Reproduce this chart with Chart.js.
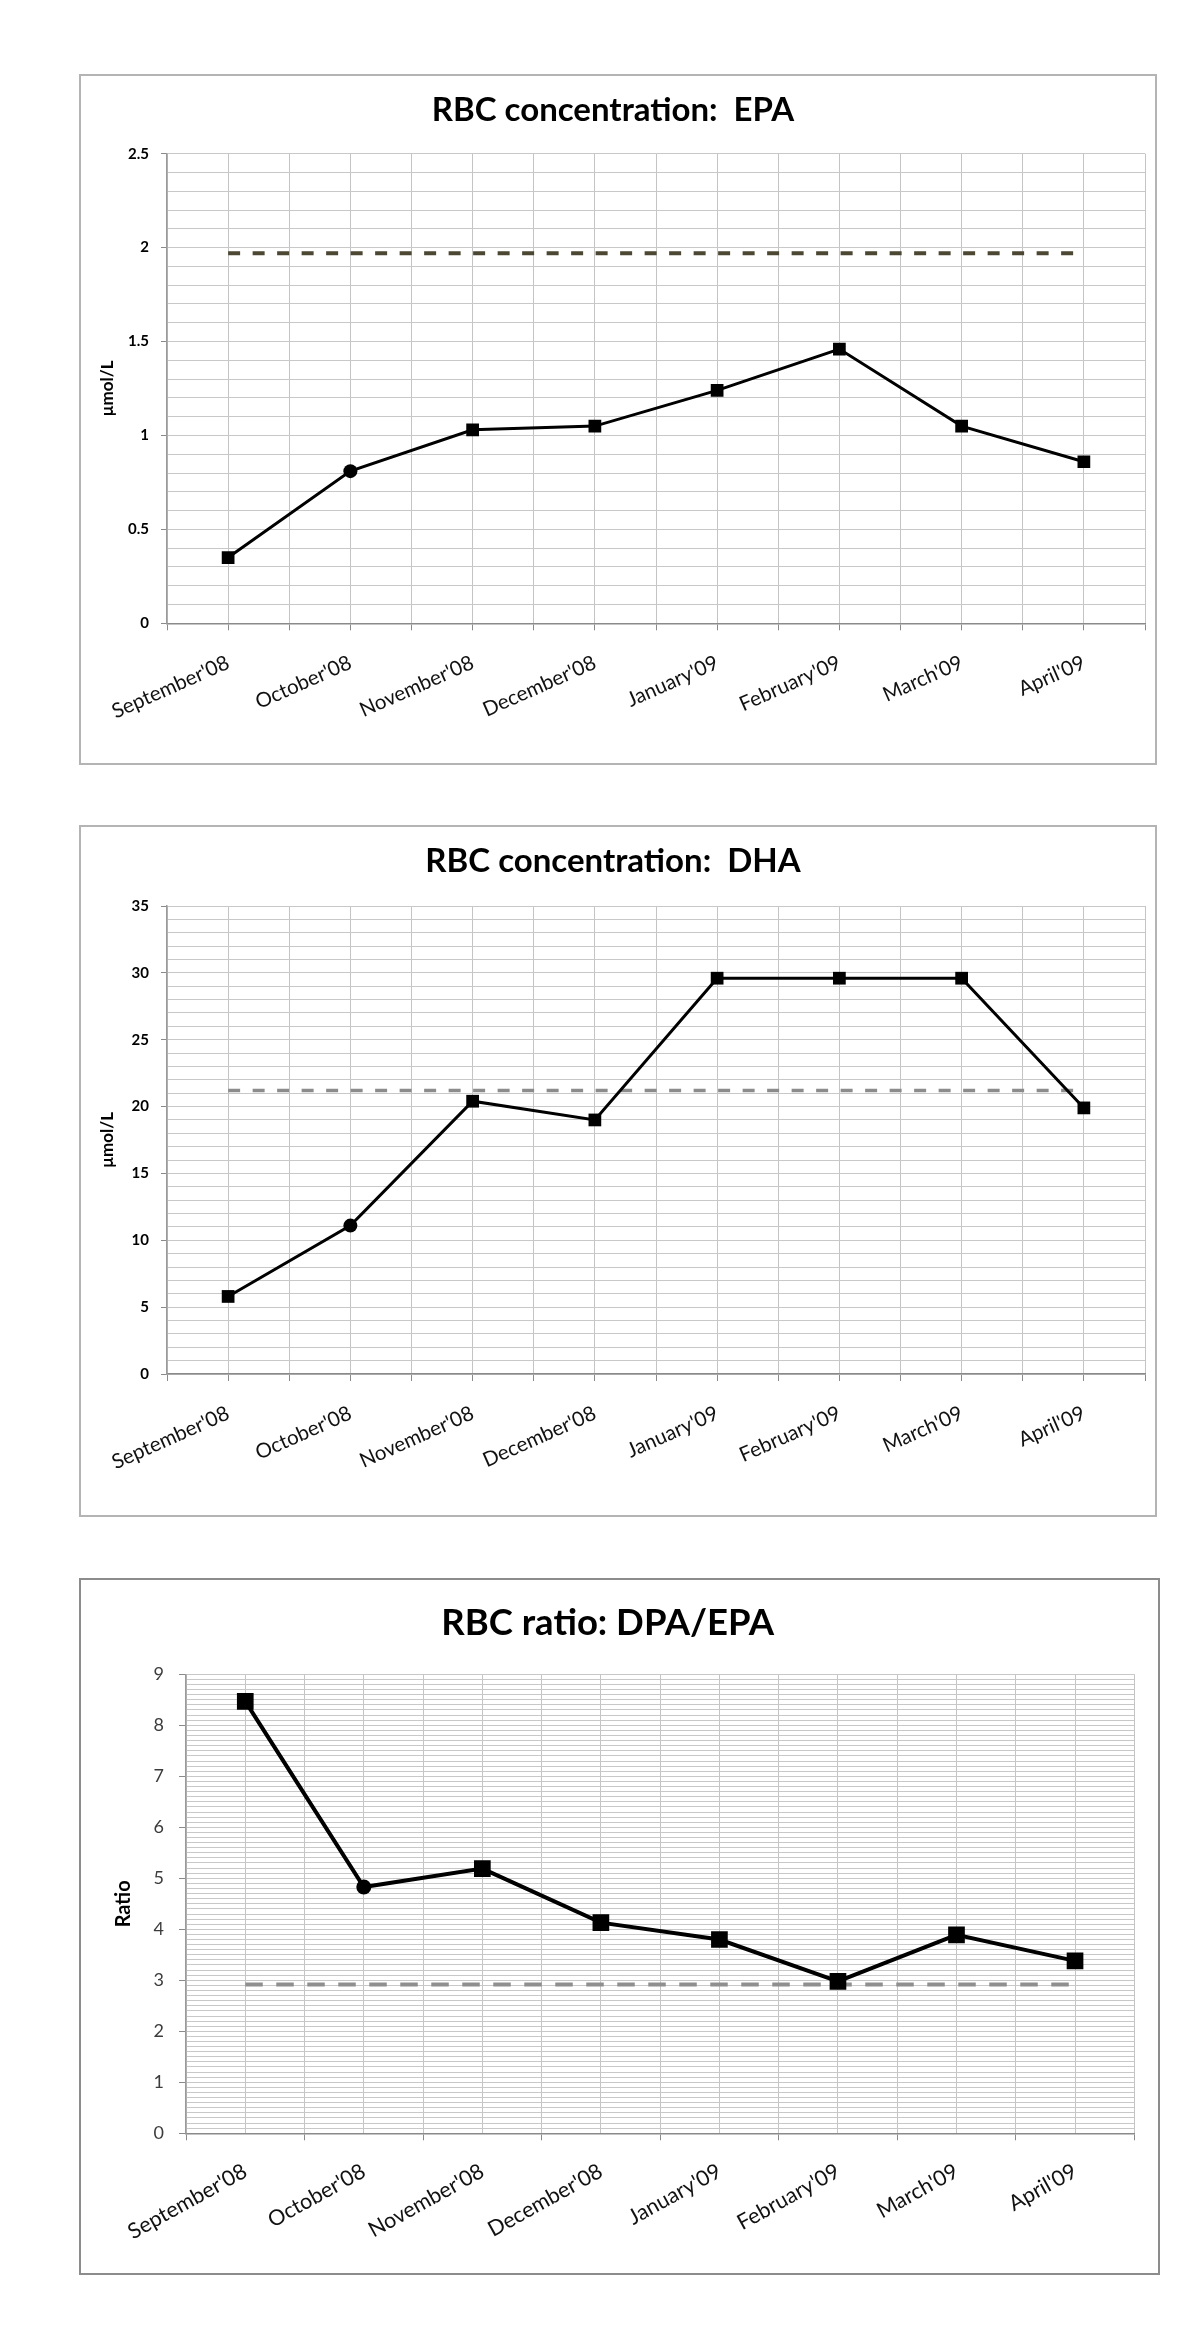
<!DOCTYPE html>
<html>
<head>
<meta charset="utf-8">
<title>RBC fatty acid charts</title>
<script src="https://cdn.jsdelivr.net/npm/chart.js@4.4.1/dist/chart.umd.min.js"></script>
<style>
    html, body { margin: 0; padding: 0; background: #fff; }
    body { width: 1200px; height: 2346px; position: relative; overflow: hidden; }
    .box { position: absolute; left: 79px; background: #fff; }
    .box canvas { display: block; }
    #box1 { top: 74px; border: 2px solid #b4b4b4; }
    #box2 { top: 825px; border: 2px solid #b4b4b4; }
    #box3 { top: 1578px; border: 2px solid #8c8c8c; }
</style>
</head>
<body>
<div class="box" id="box1"><canvas id="epaChart" width="1074" height="687"></canvas></div>
<div class="box" id="box2"><canvas id="dhaChart" width="1074" height="688"></canvas></div>
<div class="box" id="box3"><canvas id="ratioChart" width="1077" height="693"></canvas></div>

<script>
// Month labels shared by the three charts
const months = ["September'08", "October'08", "November'08", "December'08",
                "January'09", "February'09", "March'09", "April'09"];

// October is drawn with a round marker, every other month with a square
const markerShapes = ['rect', 'circle', 'rect', 'rect', 'rect', 'rect', 'rect', 'rect'];

// RBC concentration: EPA (umol/L)
const epaValues = [0.35, 0.81, 1.03, 1.05, 1.24, 1.46, 1.05, 0.86];
const epaTarget = 1.97;
const epaTicks = [0, 0.5, 1, 1.5, 2, 2.5];

// RBC concentration: DHA (umol/L)
const dhaValues = [5.8, 11.1, 20.4, 19.0, 29.6, 29.6, 29.6, 19.9];
const dhaTarget = 21.2;
const dhaTicks = [0, 5, 10, 15, 20, 25, 30, 35];

// RBC ratio: DPA/EPA
const ratioValues = [8.47, 4.83, 5.19, 4.13, 3.80, 2.98, 3.89, 3.38];
const ratioTarget = 2.92;
const ratioTicks = [0, 1, 2, 3, 4, 5, 6, 7, 8, 9];

Chart.defaults.font.family = "Lato, 'Open Sans', sans-serif";
Chart.defaults.animation = false;

function isTick(list, v) {
    return list.some(t => Math.abs(t - v) < 1e-6);
}

// Each month sits on every other vertical grid line (1, 3, 5 ... 15 of 0..16)
function makeChart(canvasId, s) {
    const ctx = document.getElementById(canvasId).getContext('2d');
    const points = s.values.map((v, i) => ({ x: 2 * i + 1, y: v }));
    const lastX = 2 * s.values.length - 1;
    const targetLine = [{ x: 1, y: s.target }, { x: lastX, y: s.target }];
    const yMax = s.yTicks[s.yTicks.length - 1];

    return new Chart(ctx, {
        type: 'line',
        data: {
            datasets: [{
                data: points,
                borderColor: '#000',
                borderWidth: s.lineWidth,
                tension: 0,
                pointStyle: markerShapes,
                pointRadius: markerShapes.map(m => m === 'circle' ? s.dotSize : s.squareSize),
                pointBackgroundColor: '#000',
                pointBorderColor: '#000',
                pointBorderWidth: 0,
                order: 1
            }, {
                data: targetLine,
                borderColor: s.targetColor,
                borderWidth: s.targetWidth,
                borderDash: s.targetDash,
                borderCapStyle: 'butt',
                pointRadius: 0,
                order: 2
            }]
        },
        options: {
            responsive: false,
            layout: { padding: { right: s.rightPad } },
            plugins: {
                legend: { display: false },
                tooltip: { enabled: false },
                title: {
                    display: true,
                    text: s.title,
                    color: '#000',
                    font: { size: s.titleSize, weight: 'bold' },
                    padding: { top: s.titleTop, bottom: s.titleBottom }
                }
            },
            scales: {
                x: {
                    type: 'linear',
                    min: 0,
                    max: lastX + 1,
                    afterFit: function(scale) {
                        scale.height = s.xHeight;
                        scale.paddingLeft = 0;
                        scale.paddingRight = 0;
                    },
                    grid: {
                        color: '#c4c4c4',
                        tickLength: 7,
                        tickColor: c => (s.evenTicksOnly && c.tick && c.tick.value % 2 === 1) ? 'rgba(0,0,0,0)' : '#8a8a8a'
                    },
                    border: { color: '#8a8a8a', width: 1.5 },
                    ticks: {
                        stepSize: 1,
                        autoSkip: false,
                        maxRotation: s.xRotation,
                        minRotation: s.xRotation,
                        padding: s.xPad,
                        color: '#111',
                        font: { size: s.xFont },
                        callback: v => (v % 2 === 1 ? months[(v - 1) / 2] : '')
                    }
                },
                y: {
                    min: 0,
                    max: yMax,
                    afterFit: function(scale) {
                        scale.width = s.yWidth;
                    },
                    grid: {
                        color: '#c8c8c8',
                        tickLength: s.yTickLen,
                        tickColor: c => (c.tick && isTick(s.yTicks, c.tick.value)) ? '#8a8a8a' : 'rgba(0,0,0,0)'
                    },
                    border: { color: '#9a9a9a', width: 1.5 },
                    ticks: {
                        stepSize: s.minorStep,
                        maxTicksLimit: 1000,
                        autoSkip: false,
                        padding: s.yPad,
                        color: s.yColor,
                        font: { size: s.yFont, weight: s.yWeight },
                        callback: v => (isTick(s.yTicks, v) ? String(v) : '')
                    },
                    title: {
                        display: true,
                        text: s.yTitle,
                        color: '#000',
                        font: { size: s.yTitleSize, weight: 'bold' },
                        padding: { top: s.yTitlePad, bottom: 0 }
                    }
                }
            }
        }
    });
}

document.addEventListener('DOMContentLoaded', function() {
    makeChart('epaChart', {
        title: 'RBC concentration:  EPA', titleSize: 33, titleTop: 14.2, titleBottom: 23.9,
        values: epaValues, target: epaTarget, yTicks: epaTicks, minorStep: 0.1,
        lineWidth: 3, squareSize: 9, dotSize: 7,
        targetColor: '#4b4733', targetWidth: 4, targetDash: [12, 12.5],
        rightPad: 10, xHeight: 139.7, yWidth: 86,
        xRotation: 24, xPad: 20, xFont: 20.5, evenTicksOnly: false,
        yTickLen: 6, yPad: 12, yFont: 15, yWeight: 'bold', yColor: '#000',
        yTitle: 'µmol/L', yTitleSize: 17, yTitlePad: 16
    });

    makeChart('dhaChart', {
        title: 'RBC concentration:  DHA', titleSize: 33, titleTop: 14.2, titleBottom: 25.2,
        values: dhaValues, target: dhaTarget, yTicks: dhaTicks, minorStep: 1,
        lineWidth: 3, squareSize: 9, dotSize: 7,
        targetColor: '#8c8c8c', targetWidth: 3.5, targetDash: [12, 12.5],
        rightPad: 10, xHeight: 141, yWidth: 86,
        xRotation: 24, xPad: 20, xFont: 20.5, evenTicksOnly: false,
        yTickLen: 6, yPad: 12, yFont: 15, yWeight: 'bold', yColor: '#000',
        yTitle: 'µmol/L', yTitleSize: 17, yTitlePad: 16
    });

    makeChart('ratioChart', {
        title: 'RBC ratio: DPA/EPA', titleSize: 36.5, titleTop: 21.1, titleBottom: 29.4,
        values: ratioValues, target: ratioTarget, yTicks: ratioTicks, minorStep: 0.1,
        lineWidth: 4, squareSize: 11.8, dotSize: 7.5,
        targetColor: '#8f8f8f', targetWidth: 4, targetDash: [17.5, 13.5],
        rightPad: 23.7, xHeight: 139.7, yWidth: 105,
        xRotation: 29, xPad: 18, xFont: 21.5, evenTicksOnly: true,
        yTickLen: 7, yPad: 15, yFont: 18, yWeight: 'normal', yColor: '#3c3c3c',
        yTitle: 'Ratio', yTitleSize: 20, yTitlePad: 31
    });
});
</script>
</body>
</html>
